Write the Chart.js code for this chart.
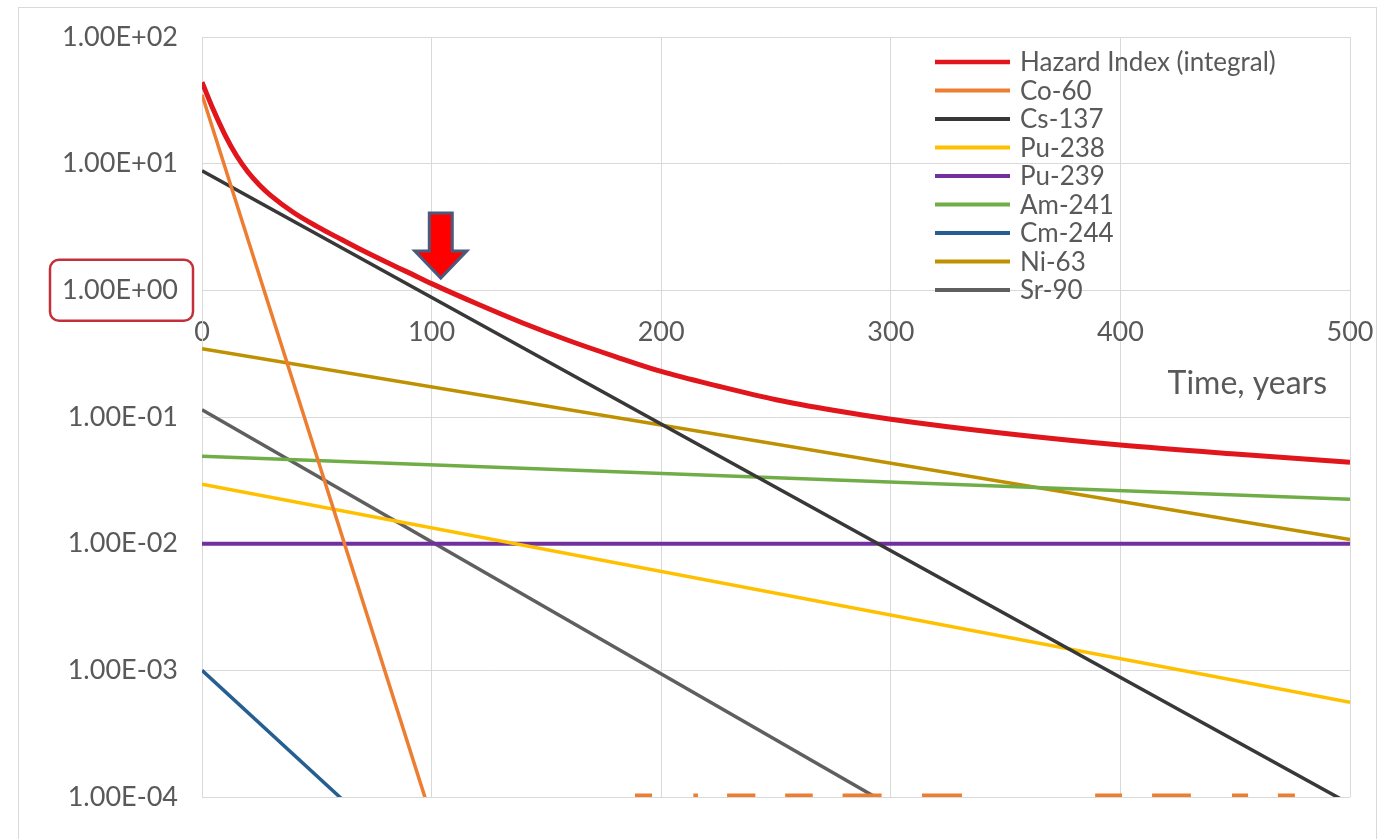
<!DOCTYPE html>
<html lang="en">

<head>
  <meta charset="UTF-8">
  <title>Hazard Index</title>
  <script src="https://cdn.jsdelivr.net/npm/chart.js"></script>
  <style>
    body { margin: 0; background: #fff; }
    #frame { position: absolute; left: 18px; top: 7px; width: 1357px; height: 900px; border: 1px solid #d9d9d9; }
    #grafico { position: absolute; left: 0; top: 0; }
  </style>
</head>

<body>
  <div id="frame"></div>
  <canvas id="grafico" width="1390" height="839"></canvas>

<script>
  // eixo X (anos) e eixo Y (log)
  var xTicks = [0, 100, 200, 300, 400, 500];
  var yTicks = [1e-4, 1e-3, 1e-2, 1e-1, 1, 10, 100];
  var yTickLabels = ['1.00E-04', '1.00E-03', '1.00E-02', '1.00E-01', '1.00E+00', '1.00E+01', '1.00E+02'];

  // Hazard Index (integral)
  var hazardT = [0, 5, 10, 15, 20, 25, 30, 40, 50, 60, 70, 80, 90, 100, 120, 140, 160, 180, 200, 225, 250, 275, 300, 350, 400, 450, 500];
  var hazardV = [44, 26.5, 16.9, 11.6, 8.6, 6.8, 5.6, 4.1, 3.2, 2.56, 2.06, 1.68, 1.38, 1.13, 0.78, 0.55, 0.40, 0.30, 0.229, 0.175, 0.137, 0.113, 0.096, 0.074, 0.060, 0.051, 0.044];

  // nuclideos
  var co60T = [0, 100, 187, 188.6, 196, 197, 213, 214, 216, 217, 228, 228.7, 241, 242, 253, 254, 266, 267, 278, 279, 296, 297, 313, 313.6, 331, 332, 388, 389, 400.7, 401, 413, 413.8, 430.7, 431, 448, 448.6, 455.6, 456, 468, 468.6, 476, 477];
  var co60V = [35, 6.8e-5, null, 1.03e-4, 1.03e-4, null, null, 1.03e-4, 1.03e-4, null, null, 1.03e-4, 1.03e-4, null, null, 1.03e-4, 1.03e-4, null, null, 1.03e-4, 1.03e-4, null, null, 1.03e-4, 1.03e-4, null, null, 1.03e-4, 1.03e-4, null, null, 1.03e-4, 1.03e-4, null, null, 1.03e-4, 1.03e-4, null, null, 1.03e-4, 1.03e-4, null];
  var cs137T = [0, 500];
  var cs137V = [8.8, 8.8e-5];
  var pu238T = [0, 500];
  var pu238V = [0.0294, 5.6e-4];
  var pu239T = [0, 500];
  var pu239V = [0.01, 0.01];
  var am241T = [0, 500];
  var am241V = [0.049, 0.0224];
  var cm244T = [0, 100];
  var cm244V = [1e-3, 2.15e-5];
  var ni63T = [0, 500];
  var ni63V = [0.346, 0.0108];
  var sr90T = [0, 300];
  var sr90V = [0.114, 8.5e-5];

  var fonte = "Lato, 'Open Sans', sans-serif";
  var corTexto = '#595959';
  var corGrade = '#d9d9d9';

  function pontos(t, v) {
    var lista = [];
    for (var i = 0; i < t.length; i++) {
      lista.push({ x: t[i], y: v[i] });
    }
    return lista;
  }

  function serie(label, t, v, cor, largura) {
    return {
      label: label,
      data: pontos(t, v),
      borderColor: cor,
      backgroundColor: cor,
      borderWidth: largura,
      pointRadius: 0,
      tension: 0,
      fill: false,
      spanGaps: false
    };
  }

  var hazard = serie('Hazard Index (integral)', hazardT, hazardV, '#e0161c', 5);
  hazard.cubicInterpolationMode = 'monotone';

  var dados = {
    datasets: [
      hazard,
      serie('Co-60', co60T, co60V, '#ed7d31', 3.5),
      serie('Cs-137', cs137T, cs137V, '#383838', 3.5),
      serie('Pu-238', pu238T, pu238V, '#ffc000', 3.5),
      serie('Pu-239', pu239T, pu239V, '#7030a0', 4),
      serie('Am-241', am241T, am241V, '#70ad47', 3.5),
      serie('Cm-244', cm244T, cm244V, '#255e91', 3.5),
      serie('Ni-63', ni63T, ni63V, '#bf9000', 3.5),
      serie('Sr-90', sr90T, sr90V, '#5f5f5f', 3.5)
    ]
  };

  // legenda dentro da area do grafico, seta vermelha e destaque do rotulo 1.00E+00
  var extras = {
    id: 'extras',
    afterDraw: function (chart) {
      var ctx = chart.ctx;
      var area = chart.chartArea;
      var sx = chart.scales.x;
      var sy = chart.scales.y;

      ctx.save();

      // legenda
      var lx = area.right - 415;
      var ly = area.top + 25;
      ctx.font = '26px ' + fonte;
      ctx.textBaseline = 'middle';
      ctx.textAlign = 'left';
      chart.data.datasets.forEach(function (ds, i) {
        var y = ly + i * 28.5;
        ctx.strokeStyle = ds.borderColor;
        ctx.lineWidth = i == 0 ? 4.5 : 4;
        ctx.beginPath();
        ctx.moveTo(lx, y);
        ctx.lineTo(lx + 75, y);
        ctx.stroke();
        ctx.fillStyle = corTexto;
        ctx.fillText(ds.label, lx + 85, y + 1);
      });

      // titulo do eixo x
      ctx.font = '32px ' + fonte;
      ctx.textAlign = 'right';
      ctx.fillStyle = corTexto;
      ctx.fillText('Time, years', area.right - 23, sy.getPixelForValue(1) + 93);

      // seta
      var tx = sx.getPixelForValue(104);
      var ty = sy.getPixelForValue(1.25);
      ctx.beginPath();
      ctx.moveTo(tx - 11.5, ty - 65);
      ctx.lineTo(tx + 11.5, ty - 65);
      ctx.lineTo(tx + 11.5, ty - 27);
      ctx.lineTo(tx + 26, ty - 27);
      ctx.lineTo(tx, ty);
      ctx.lineTo(tx - 26, ty - 27);
      ctx.lineTo(tx - 11.5, ty - 27);
      ctx.closePath();
      ctx.fillStyle = '#ff0000';
      ctx.fill();
      ctx.lineWidth = 3;
      ctx.strokeStyle = '#4a5a7c';
      ctx.lineJoin = 'miter';
      ctx.stroke();

      // destaque 1.00E+00
      var yc = sy.getPixelForValue(1);
      var bx = 50, bw = 143, bh = 61, r = 9;
      var by = yc - bh / 2;
      ctx.beginPath();
      ctx.moveTo(bx + r, by);
      ctx.lineTo(bx + bw - r, by);
      ctx.arcTo(bx + bw, by, bx + bw, by + r, r);
      ctx.lineTo(bx + bw, by + bh - r);
      ctx.arcTo(bx + bw, by + bh, bx + bw - r, by + bh, r);
      ctx.lineTo(bx + r, by + bh);
      ctx.arcTo(bx, by + bh, bx, by + bh - r, r);
      ctx.lineTo(bx, by + r);
      ctx.arcTo(bx, by, bx + r, by, r);
      ctx.closePath();
      ctx.lineWidth = 2.5;
      ctx.strokeStyle = '#c3303a';
      ctx.stroke();

      ctx.restore();
    }
  };

  var config = {
    type: 'line',
    data: dados,
    options: {
      responsive: false,
      animation: false,
      devicePixelRatio: 1,
      layout: { padding: { top: 37, right: 40, bottom: 42, left: 0 } },
      plugins: {
        legend: { display: false },
        tooltip: { enabled: false }
      },
      scales: {
        x: {
          type: 'linear',
          position: { y: 1 },
          min: 0,
          max: 500,
          afterBuildTicks: function (scale) {
            scale.ticks = xTicks.map(function (v) { return { value: v }; });
          },
          // o eixo fica sobre a linha 1.00E+00, sem ocupar espaco
          afterFit: function (scale) {
            scale.height = 0;
            scale.paddingLeft = 0;
            scale.paddingRight = 0;
          },
          grid: { color: corGrade, lineWidth: 1, drawTicks: false },
          border: { display: true, color: corGrade },
          ticks: {
            padding: 26,
            maxRotation: 0,
            color: corTexto,
            font: { family: fonte, size: 27 }
          }
        },
        y: {
          type: 'logarithmic',
          min: 1e-4,
          max: 100,
          afterBuildTicks: function (scale) {
            scale.ticks = yTicks.map(function (v) { return { value: v }; });
          },
          afterFit: function (scale) {
            scale.width = 202;
            scale.paddingTop = 0;
            scale.paddingBottom = 0;
          },
          grid: { color: corGrade, lineWidth: 1, drawTicks: false },
          border: { display: true, color: corGrade },
          ticks: {
            padding: 24,
            color: corTexto,
            font: { family: fonte, size: 27 },
            callback: function (value) {
              var i = yTicks.indexOf(value);
              return i >= 0 ? yTickLabels[i] : '';
            }
          }
        }
      }
    },
    plugins: [extras]
  };

  var meuGrafico = new Chart(document.getElementById('grafico'), config);
</script>
</body>

</html>
